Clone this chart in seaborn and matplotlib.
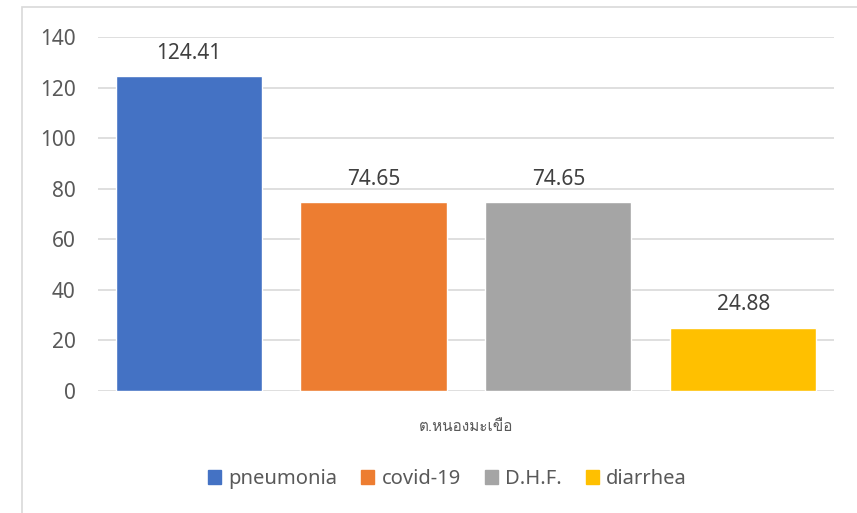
import matplotlib
matplotlib.use('Agg')
import matplotlib.pyplot as plt
from matplotlib import font_manager
from fontTools.ttLib import TTFont
import seaborn as sns
import pandas as pd
from matplotlib.patches import Rectangle

# values
diseases = ['pneumonia', 'covid-19', 'D.H.F.', 'diarrhea']
rates = [124.41, 74.65, 74.65, 24.88]
area_label = 'ต.หนองมะเขือ'
colors = ['#4472C4', '#ED7D31', '#A5A5A5', '#FFC000']
yticks = [0, 20, 40, 60, 80, 100, 120, 140]

df = pd.DataFrame({'disease': diseases, 'rate': rates})


# look for an installed family that covers Thai
def find_thai_family():
    for f in font_manager.fontManager.ttflist:
        try:
            font = TTFont(f.fname, fontNumber=0, lazy=True)
            cmap = font.getBestCmap()
            if cmap and all(ord(ch) in cmap for ch in area_label):
                return f.name
        except Exception:
            continue
    return 'DejaVu Sans'


thai_family = find_thai_family()

sns.set_style('white')
plt.rcParams['font.family'] = ['Noto Sans', thai_family, 'DejaVu Sans']

fig = plt.figure(figsize=(8.57, 5.13), dpi=100)
ax = fig.add_axes([0.1144, 0.2378, 0.973 - 0.1144, 0.9279 - 0.2378])

sns.barplot(data=df, x='disease', y='rate', hue='disease', palette=colors,
            width=0.79, saturation=1, legend=False, ax=ax, zorder=3)

ax.set_ylim(0, 140)
ax.set_xlim(-0.49, 3.49)
ax.set_yticks(yticks)
ax.set_xticks([])
ax.grid(axis='y', color='#D9D9D9', linewidth=1.2, zorder=0)
for s in ax.spines.values():
    s.set_visible(False)
ax.tick_params(axis='y', length=0, pad=16, labelsize=15, labelcolor='#595959')
ax.set_ylabel('')
ax.set_xlabel(area_label, fontsize=11, color='#595959', labelpad=21,
              family=[thai_family, 'DejaVu Sans'])

for i, v in enumerate(rates):
    ax.text(i, v + 5, f'{v:.2f}', ha='center', va='bottom', fontsize=15, color='#404040')

# legend
handles = [Rectangle((0, 0), 1, 1, color=c) for c in colors]
fig.legend(handles, diseases, loc='center', bbox_to_anchor=(0.522, 0.066), ncol=4,
           frameon=False, fontsize=14.5, handlelength=0.65, handleheight=0.65,
           handletextpad=0.35, columnspacing=1.2, labelcolor='#595959')

# chart border
fig.patches.append(Rectangle((22 / 857, -0.1), 1.1, 1 - 7 / 513 + 0.1, transform=fig.transFigure,
                             fill=False, edgecolor='#D9D9D9', linewidth=1.2))

fig.savefig('out.png', dpi=100)
